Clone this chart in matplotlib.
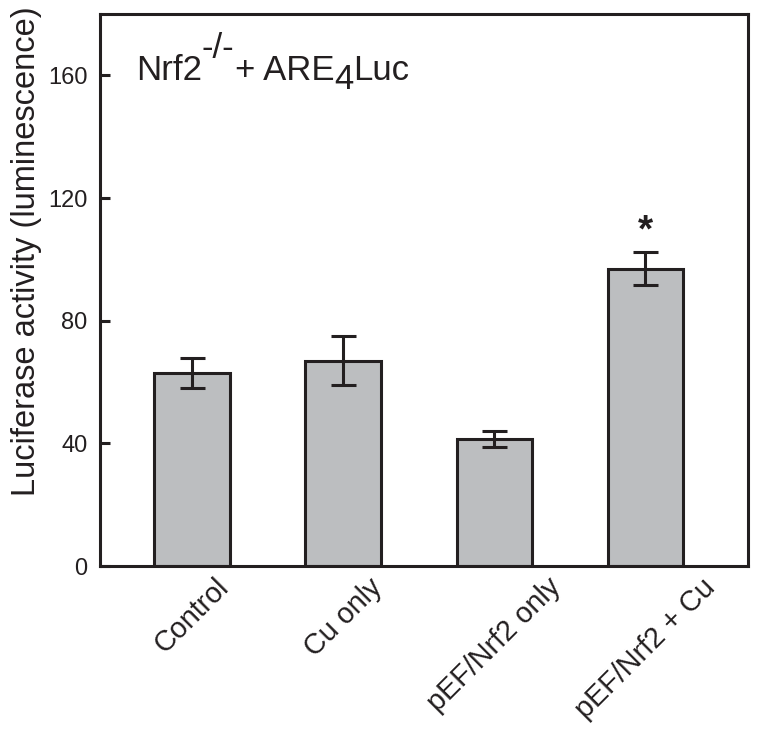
import matplotlib
matplotlib.use("Agg")
import matplotlib.pyplot as plt

plt.rcParams['font.family'] = ['Liberation Sans', 'DejaVu Sans']

categories = ["Control", "Cu only", "pEF/Nrf2 only", "pEF/Nrf2 + Cu"]
values = [63, 67, 41.5, 97]
errors = [5, 8, 2.7, 5.4]
yticks = [0, 40, 80, 120, 160]
star_value = 109

ink = '#231f20'
fill = '#bcbec0'

fig = plt.figure(figsize=(7.62, 7.43), dpi=100)
ax = fig.add_axes([0.131, 0.238, 0.851, 0.743])

x = list(range(len(categories)))
ax.bar(x, values, width=0.5, color=fill, edgecolor=ink, linewidth=2.2, zorder=2)
ax.errorbar(x, values, yerr=errors, fmt='none', ecolor=ink, elinewidth=2.2,
            capsize=9, capthick=2.2, zorder=3)

ax.text(3, star_value, '*', ha='center', va='center', fontsize=28,
        fontweight='bold', color=ink)

ax.set_xlim(-0.61, 3.68)
ax.set_ylim(0, 180)
ax.set_yticks(yticks)
ax.set_yticklabels([str(t) for t in yticks])
ax.set_xticks(x)
ax.set_xticklabels(categories, rotation=45, ha='center', va='top',
                   fontsize=20.7, color=ink)

ax.tick_params(axis='y', direction='in', length=7, width=2.2, pad=9,
               labelsize=17, colors=ink)
ax.tick_params(axis='x', length=0, pad=5)
for sp in ax.spines.values():
    sp.set_linewidth(2.2)
    sp.set_color(ink)

ax.set_ylabel('Luciferase activity (luminescence)', fontsize=23.5, color=ink)
ax.yaxis.set_label_coords(-0.0895, 0.571)

# title built from pieces: raised "-/-" and lowered "4" at full size
fs = 25
t1 = ax.text(0.0556, 0.880, 'Nrf2', transform=ax.transAxes, fontsize=fs,
             color=ink, ha='left', va='baseline')
t2 = ax.annotate('-/-', xy=(1, 0), xycoords=(t1, t1), xytext=(0, 16),
                 textcoords='offset points', fontsize=fs, color=ink,
                 ha='left', va='bottom')
t3 = ax.annotate('+ ARE', xy=(1, 0), xycoords=(t2, t1), fontsize=fs,
                 color=ink, ha='left', va='bottom')
t4 = ax.annotate('4', xy=(1, 0), xycoords=(t3, t1), xytext=(0, -6),
                 textcoords='offset points', fontsize=fs, color=ink,
                 ha='left', va='bottom')
t5 = ax.annotate('Luc', xy=(1, 0), xycoords=(t4, t1), fontsize=fs,
                 color=ink, ha='left', va='bottom')

fig.savefig('out.png', dpi=100)
